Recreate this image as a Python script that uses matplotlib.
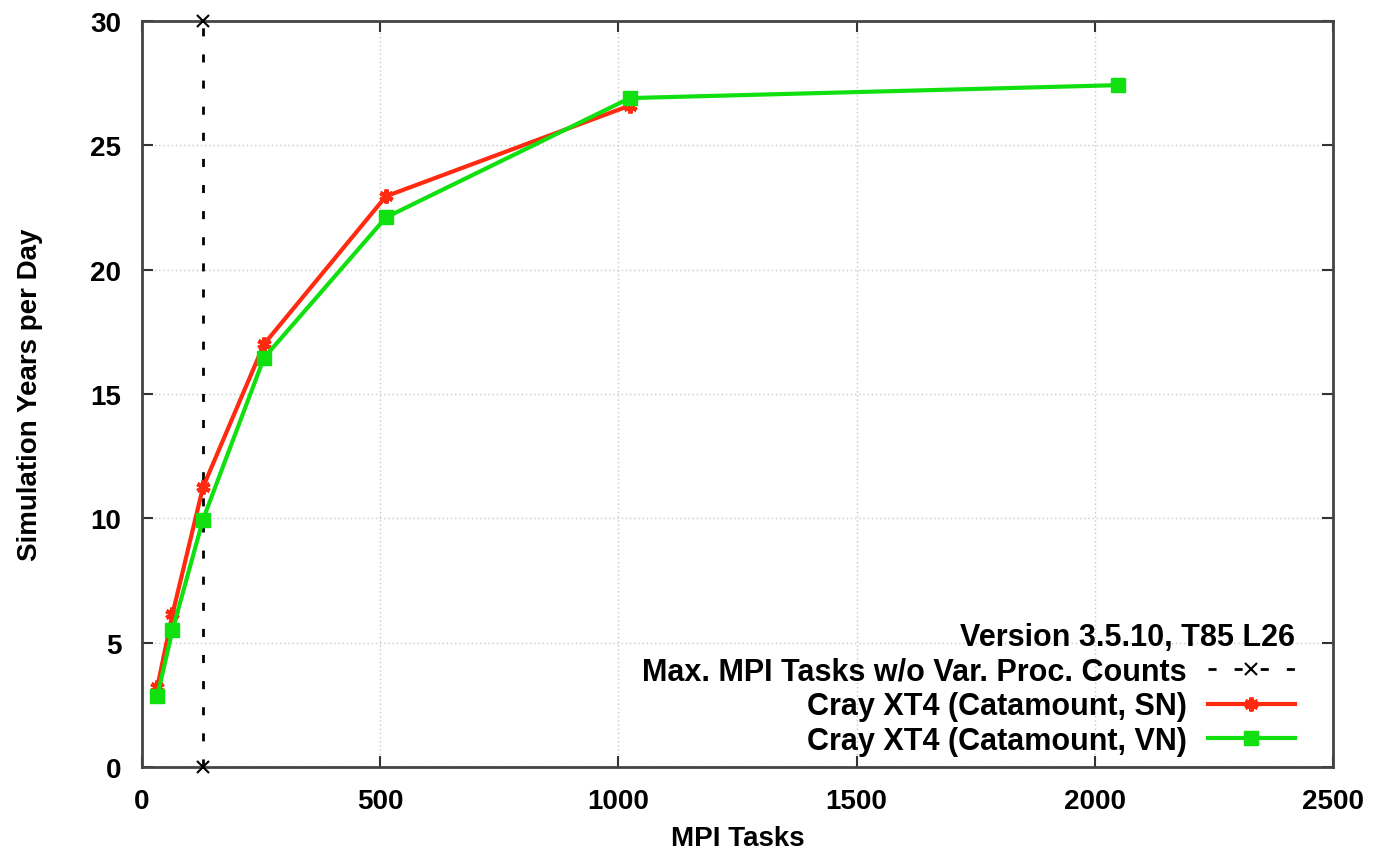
import matplotlib
matplotlib.use("Agg")
import matplotlib.pyplot as plt

plt.rcParams['font.family'] = ['Liberation Sans', 'DejaVu Sans']
plt.rcParams['font.weight'] = 'bold'

# MPI tasks and simulation years per day
tasks_sn = [32, 64, 128, 256, 512, 1024]
years_sn = [3.2, 6.15, 11.25, 17.0, 22.95, 26.6]
tasks_vn = [32, 64, 128, 256, 512, 1024, 2048]
years_vn = [2.85, 5.5, 9.95, 16.45, 22.1, 26.9, 27.42]
# max MPI tasks without variable processor counts
max_tasks = [128, 128]
max_range = [0, 30]

fig = plt.figure(figsize=(13.74, 8.53), dpi=100)
ax = fig.add_axes([142 / 1374, 1 - 768 / 853, (1333 - 142) / 1374, (768 - 22) / 853])

ax.plot(max_tasks, max_range, color='black', lw=2, ls=(0, (2.9, 6.5)), marker='x',
        ms=8, mew=1.5, label='Max. MPI Tasks w/o Var. Proc. Counts', clip_on=False, zorder=3)
ax.plot(tasks_sn, years_sn, color='#ff2a10', lw=3, marker=(6, 2, 0), ms=10, mew=3,
        label='Cray XT4 (Catamount, SN)', zorder=4)
ax.plot(tasks_vn, years_vn, color='#10e010', lw=3, marker='s', ms=10,
        label='Cray XT4 (Catamount, VN)', zorder=5)

ax.set_xlim(0, 2500)
ax.set_ylim(0, 30)
ax.set_xticks([0, 500, 1000, 1500, 2000, 2500])
ax.set_yticks([0, 5, 10, 15, 20, 25, 30])
ax.grid(True, color='#c8c8c8', ls=(0, (1, 2)), lw=1)
ax.tick_params(direction='in', length=8, width=1.5, top=True, right=True,
               labelsize=20, pad=15, colors='#333333', labelcolor='black')
for s in ax.spines.values():
    s.set_linewidth(2)
    s.set_color('#444444')

ax.set_xlabel('MPI Tasks', fontsize=20, fontweight='bold', labelpad=8)
ax.set_ylabel('Simulation Years per Day', fontsize=20, fontweight='bold', labelpad=34)

leg = ax.legend(loc='lower right', bbox_to_anchor=(0.968, 0.015), frameon=False,
                markerfirst=False, fontsize=22, title='Version 3.5.10, T85 L26',
                title_fontproperties={'size': 22, 'weight': 'bold'}, alignment='right',
                handlelength=2.85, handletextpad=0.7, labelspacing=0.15,
                borderaxespad=0, borderpad=0)

fig.savefig('out.png', dpi=100)
